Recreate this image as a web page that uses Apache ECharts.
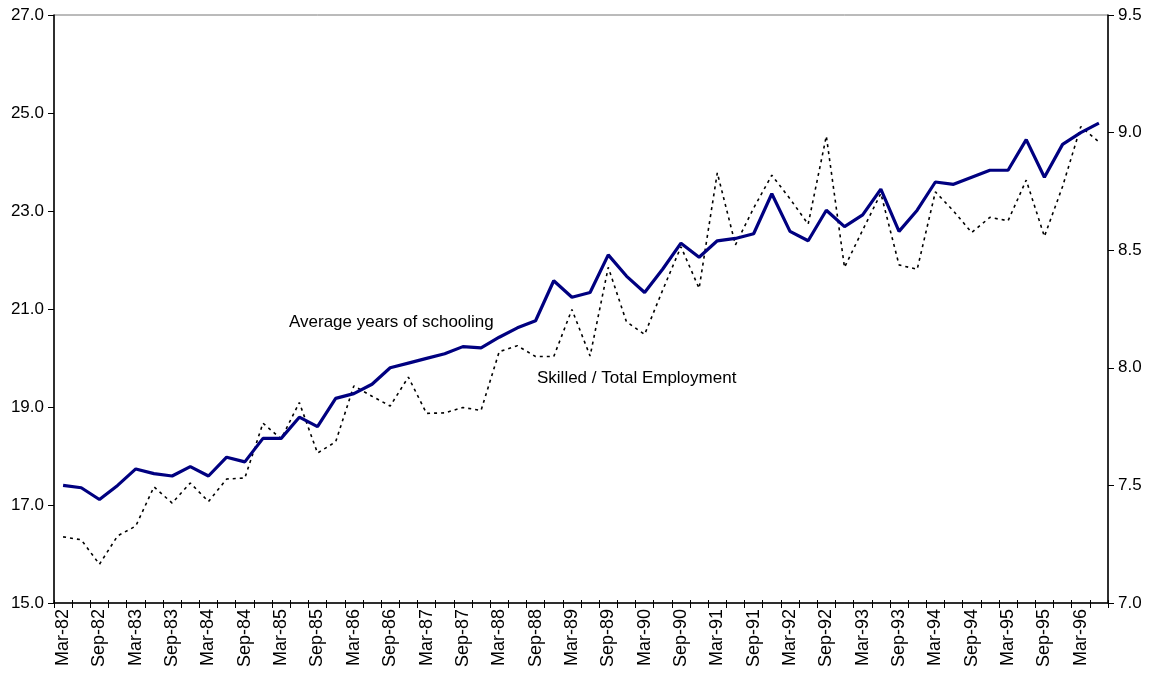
<!DOCTYPE html>
<html>
<head>
<meta charset="utf-8">
<script src="https://cdn.jsdelivr.net/npm/echarts@6/dist/echarts.min.js"></script>
<style>
  html, body { margin: 0; padding: 0; background: #fff; }
  #chart { width: 1154px; height: 674px; }
</style>
</head>
<body>
<div id="chart"></div>
<script>
const quarters = [
  'Mar-82','Jun-82','Sep-82','Dec-82','Mar-83','Jun-83','Sep-83','Dec-83',
  'Mar-84','Jun-84','Sep-84','Dec-84','Mar-85','Jun-85','Sep-85','Dec-85',
  'Mar-86','Jun-86','Sep-86','Dec-86','Mar-87','Jun-87','Sep-87','Dec-87',
  'Mar-88','Jun-88','Sep-88','Dec-88','Mar-89','Jun-89','Sep-89','Dec-89',
  'Mar-90','Jun-90','Sep-90','Dec-90','Mar-91','Jun-91','Sep-91','Dec-91',
  'Mar-92','Jun-92','Sep-92','Dec-92','Mar-93','Jun-93','Sep-93','Dec-93',
  'Mar-94','Jun-94','Sep-94','Dec-94','Mar-95','Jun-95','Sep-95','Dec-95',
  'Mar-96','Jun-96'
];

// Average years of schooling (right axis)
const schooling = [
  7.50, 7.49, 7.44, 7.50, 7.57, 7.55, 7.54, 7.58,
  7.54, 7.62, 7.60, 7.70, 7.70, 7.79, 7.75, 7.87,
  7.89, 7.93, 8.00, 8.02, 8.04, 8.06, 8.09, 8.085,
  8.13, 8.17, 8.20, 8.37, 8.30, 8.32, 8.48, 8.39,
  8.32, 8.42, 8.53, 8.47, 8.54, 8.55, 8.57, 8.74,
  8.58, 8.54, 8.67, 8.60, 8.65, 8.76, 8.58, 8.67,
  8.79, 8.78, 8.81, 8.84, 8.84, 8.97, 8.81, 8.95,
  9.00, 9.04
];

// Skilled / Total Employment (left axis)
const skilledShare = [
  16.35, 16.29, 15.79, 16.37, 16.57, 17.37, 17.04, 17.45,
  17.07, 17.53, 17.55, 18.67, 18.35, 19.09, 18.06, 18.29,
  19.43, 19.22, 19.02, 19.61, 18.87, 18.88, 18.99, 18.93,
  20.13, 20.25, 20.03, 20.03, 20.99, 20.04, 21.85, 20.74,
  20.48, 21.39, 22.27, 21.42, 23.78, 22.31, 23.06, 23.73,
  23.25, 22.73, 24.53, 21.85, 22.61, 23.36, 21.90, 21.81,
  23.39, 23.00, 22.56, 22.87, 22.80, 23.63, 22.48, 23.50,
  24.72, 24.41
];

const seriesNames = ['Average years of schooling', 'Skilled / Total Employment'];

const FONT = 'Liberation Sans, Arial, sans-serif';
const chart = echarts.init(document.getElementById('chart'), null, { renderer: 'canvas' });

const G = { left: 54, right: 46, top: 15, bottom: 71 };

chart.setOption({
  animation: false,
  backgroundColor: '#ffffff',
  grid: { left: G.left, right: G.right, top: G.top, bottom: G.bottom, show: true, borderColor: '#777', borderWidth: 1, containLabel: false },
  xAxis: [{
    type: 'category',
    data: quarters,
    boundaryGap: true,
    axisLine: { show: true, lineStyle: { color: '#000', width: 1.5 } },
    axisTick: { show: true, interval: 0, length: 5, lineStyle: { color: '#000', width: 1 } },
    axisLabel: { interval: 1, rotate: 90, fontFamily: FONT, fontSize: 18, color: '#000', margin: 6 },
    splitLine: { show: false }
  }, {
    type: 'category',
    data: quarters,
    position: 'bottom',
    boundaryGap: true,
    axisLine: { show: false },
    axisTick: { show: true, inside: true, interval: 0, length: 3, lineStyle: { color: '#000', width: 1 } },
    axisLabel: { show: false },
    splitLine: { show: false }
  }],
  yAxis: [{
    type: 'value',
    position: 'left',
    min: 15, max: 27, interval: 2,
    axisLine: { show: true, lineStyle: { color: '#000', width: 1.5 } },
    axisTick: { show: true, length: 6, lineStyle: { color: '#000' } },
    axisLabel: { formatter: v => v.toFixed(1), fontFamily: FONT, fontSize: 17, color: '#000', margin: 10 },
    splitLine: { show: false }
  }, {
    type: 'value',
    position: 'right',
    min: 7, max: 9.5, interval: 0.5,
    axisLine: { show: true, lineStyle: { color: '#000', width: 1.5 } },
    axisTick: { show: true, length: 6, lineStyle: { color: '#000' } },
    axisLabel: { formatter: v => v.toFixed(1), fontFamily: FONT, fontSize: 17, color: '#000', margin: 10 },
    splitLine: { show: false }
  }],
  series: [{
    name: seriesNames[1],
    type: 'line',
    yAxisIndex: 0,
    data: skilledShare,
    showSymbol: false,
    lineStyle: { color: '#000', width: 1.6, type: [3, 4] },
    z: 2
  }, {
    name: seriesNames[0],
    type: 'line',
    yAxisIndex: 1,
    data: schooling,
    showSymbol: false,
    lineStyle: { color: '#000080', width: 3.2 },
    z: 3
  }],
  graphic: [{
    type: 'text', left: 289, top: 314,
    style: { text: seriesNames[0], font: '17px ' + FONT, fill: '#000' }
  }, {
    type: 'text', left: 537, top: 370,
    style: { text: seriesNames[1], font: '17px ' + FONT, fill: '#000' }
  }]
});
</script>
</body>
</html>
